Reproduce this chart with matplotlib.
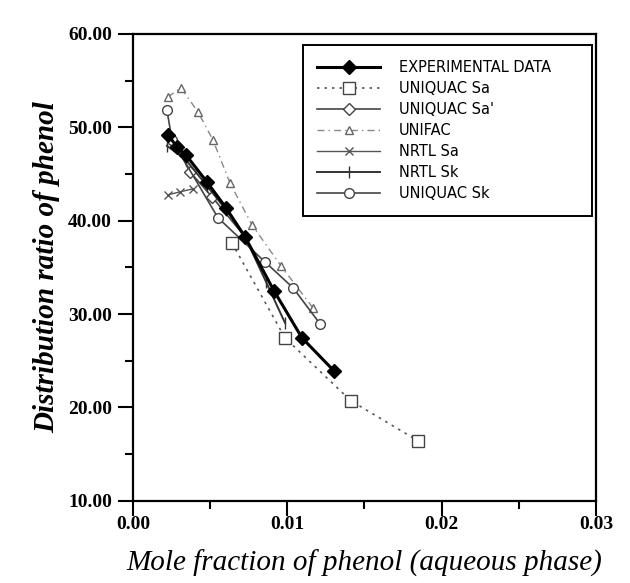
import matplotlib
matplotlib.use("Agg")
from matplotlib import pyplot as plt
from matplotlib.ticker import MultipleLocator, FormatStrFormatter

# values
exp_x = [0.00227, 0.00285, 0.00343, 0.00479, 0.00603, 0.00726, 0.00914, 0.01095, 0.01302]
exp_y = [49.19, 47.90, 47.04, 44.15, 41.37, 38.27, 32.48, 27.45, 23.92]

uniquac_sa_x = [0.00641, 0.00985, 0.01412, 0.01847]
uniquac_sa_y = [37.62, 27.45, 20.71, 16.42]

uniquac_sa2_x = [0.00279, 0.00369, 0.00512, 0.00726]
uniquac_sa2_y = [48.12, 45.22, 42.55, 38.27]

unifac_x = [0.00227, 0.00311, 0.00421, 0.00518, 0.00628, 0.00771, 0.00959, 0.01166]
unifac_y = [53.25, 54.22, 51.65, 48.65, 44.05, 39.55, 35.16, 30.66]

nrtl_sa_x = [0.00227, 0.00305, 0.00389]
nrtl_sa_y = [42.76, 43.08, 43.40]

nrtl_sk_x = [0.00220, 0.00343, 0.00479, 0.00603, 0.00726, 0.00862, 0.00985]
nrtl_sk_y = [48.01, 46.51, 43.73, 41.16, 38.27, 33.45, 29.06]

uniquac_sk_x = [0.00220, 0.00253, 0.00551, 0.00855, 0.01037, 0.01212]
uniquac_sk_y = [51.86, 48.65, 40.30, 35.59, 32.81, 28.95]

fig = plt.figure(figsize=(6.3, 5.83), dpi=100)
ax = fig.add_axes([0.211, 0.141, 0.735, 0.801])

ax.plot(exp_x, exp_y, color="black", lw=2.2, marker="D", ms=7,
        mfc="black", mec="black", label="EXPERIMENTAL DATA", zorder=5)
ax.plot(uniquac_sa_x, uniquac_sa_y, color="#555555", lw=1.2, ls=(0, (1.5, 3)),
        marker="s", ms=8, mfc="white", mec="#444444", label="UNIQUAC Sa")
ax.plot(uniquac_sa2_x, uniquac_sa2_y, color="#444444", lw=1.2, marker="D", ms=6,
        mfc="white", mec="#444444", label="UNIQUAC Sa'")
ax.plot(unifac_x, unifac_y, color="#888888", lw=1.0, ls=(0, (5, 3, 1, 3)),
        marker="^", ms=6, mfc="white", mec="#666666", label="UNIFAC")
ax.plot(nrtl_sa_x, nrtl_sa_y, color="#555555", lw=1.0, marker="x", ms=6,
        mec="#555555", label="NRTL Sa")
ax.plot(nrtl_sk_x, nrtl_sk_y, color="#333333", lw=1.4, marker="|", ms=8,
        mec="#333333", label="NRTL Sk")
ax.plot(uniquac_sk_x, uniquac_sk_y, color="#444444", lw=1.2, marker="o", ms=7,
        mfc="white", mec="#444444", label="UNIQUAC Sk")

ax.set_xlim(0, 0.03)
ax.set_ylim(10, 60)
ax.xaxis.set_major_locator(MultipleLocator(0.01))
ax.xaxis.set_minor_locator(MultipleLocator(0.005))
ax.yaxis.set_major_locator(MultipleLocator(10))
ax.yaxis.set_minor_locator(MultipleLocator(5))
ax.xaxis.set_major_formatter(FormatStrFormatter("%.2f"))
ax.yaxis.set_major_formatter(FormatStrFormatter("%.2f"))

ax.tick_params(which="major", direction="out", length=11, width=1.5)
ax.tick_params(axis="x", which="major", pad=0)
ax.tick_params(axis="y", which="major", pad=4)
ax.tick_params(which="minor", direction="out", length=6, width=1.5)
for lab in ax.get_xticklabels() + ax.get_yticklabels():
    lab.set_fontfamily("Liberation Serif")
    lab.set_fontweight("bold")
    lab.set_fontsize(14)
for s in ax.spines.values():
    s.set_linewidth(1.6)

ax.set_xlabel("Mole fraction of phenol (aqueous phase)", family="Liberation Serif",
              style="italic", fontsize=21, labelpad=12)
ax.set_ylabel("Distribution ratio of phenol", family="Liberation Serif",
              style="italic", weight="bold", fontsize=21, labelpad=6)

leg = ax.legend(loc="upper left", bbox_to_anchor=(0.367, 0.5, 0.624, 0.476), mode="expand",
                fancybox=False, edgecolor="black", framealpha=1,
                prop={"family": "DejaVu Sans", "size": 10.5},
                handlelength=4.3, borderpad=1.0, labelspacing=0.42, handletextpad=1.3,
                borderaxespad=0)
leg.get_frame().set_linewidth(1.4)

fig.savefig("out.png", dpi=100)
